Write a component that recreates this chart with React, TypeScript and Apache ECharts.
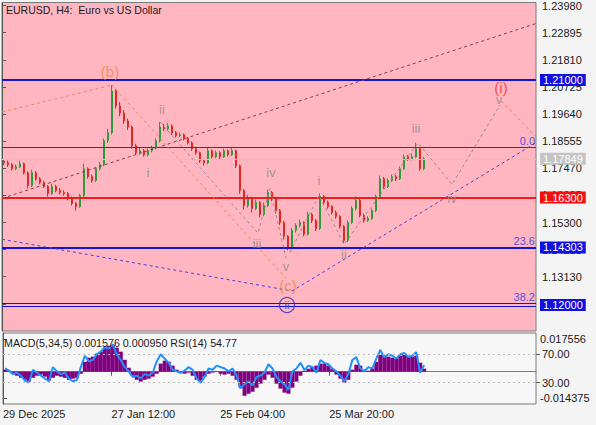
import React, { useEffect, useRef } from "react";
import * as echarts from "echarts";

const FONT = '"Liberation Sans", Arial, sans-serif';

// ---- price data (H4 candles, one every index step) ----
const firstOpen = 1.1775;
const closes = [
  1.1769, 1.1761, 1.1745, 1.1753, 1.1765, 1.1729, 1.1678, 1.1729, 1.1705, 1.169,
  1.1674, 1.1646, 1.1674, 1.1658, 1.165, 1.1646, 1.1626, 1.1606, 1.1594, 1.1638,
  1.1745, 1.1713, 1.1698, 1.1745, 1.1761, 1.1857, 1.1889, 1.2056, 1.1996, 1.1968,
  1.1936, 1.1912, 1.1837, 1.1809, 1.1817, 1.1801, 1.1817, 1.1829, 1.1857, 1.1912,
  1.1905, 1.1916, 1.1889, 1.1877, 1.1881, 1.1865, 1.1849, 1.1825, 1.1809, 1.1777,
  1.1769, 1.1817, 1.1793, 1.1809, 1.1793, 1.1817, 1.1801, 1.1817, 1.1757, 1.1658,
  1.1598, 1.1626, 1.1586, 1.161, 1.1562, 1.1598, 1.165, 1.1626, 1.1578, 1.153,
  1.1475, 1.1431, 1.1499, 1.1518, 1.153, 1.1483, 1.1562, 1.1538, 1.1506, 1.1634,
  1.161, 1.1594, 1.157, 1.1554, 1.1514, 1.1459, 1.153, 1.1586, 1.1618, 1.1558,
  1.1538, 1.1546, 1.1578, 1.1634, 1.1705, 1.1674, 1.1698, 1.1713, 1.1705, 1.1745,
  1.1793, 1.1785, 1.1793, 1.1825, 1.1745, 1.1785,
];
const highs = [
  1.1784, 1.1778, 1.1768, 1.1762, 1.1777, 1.177, 1.1735, 1.1741, 1.1736, 1.1712,
  1.1697, 1.168, 1.1686, 1.1681, 1.1668, 1.1659, 1.1652, 1.1634, 1.1612, 1.1645,
  1.1765, 1.1751, 1.1722, 1.1753, 1.1772, 1.1866, 1.1905, 1.208, 1.2064, 1.2012,
  1.198, 1.1945, 1.1918, 1.1845, 1.1828, 1.1824, 1.1826, 1.1837, 1.1866, 1.1932,
  1.1925, 1.1928, 1.1922, 1.1896, 1.189, 1.1886, 1.1872, 1.1855, 1.1833, 1.1814,
  1.1785, 1.1829, 1.1822, 1.1818, 1.1815, 1.1826, 1.1822, 1.1829, 1.1821, 1.1762,
  1.1664, 1.164, 1.1632, 1.1622, 1.1616, 1.161, 1.1662, 1.1656, 1.1631, 1.1584,
  1.1536, 1.148, 1.1508, 1.1527, 1.1541, 1.1535, 1.1573, 1.1568, 1.1544, 1.1646,
  1.164, 1.1618, 1.16, 1.1578, 1.156, 1.152, 1.1538, 1.1595, 1.1634, 1.1624,
  1.1565, 1.1555, 1.1586, 1.1642, 1.1718, 1.1712, 1.1706, 1.1722, 1.172, 1.1754,
  1.1802, 1.18, 1.1805, 1.1849, 1.183, 1.1792,
];
const lows = [
  1.176, 1.1752, 1.1738, 1.174, 1.1748, 1.1722, 1.1666, 1.1672, 1.1698, 1.1683,
  1.1668, 1.1634, 1.164, 1.1651, 1.1642, 1.1637, 1.1618, 1.1598, 1.1578, 1.1589,
  1.1632, 1.1705, 1.169, 1.1692, 1.1738, 1.1755, 1.1848, 1.1882, 1.1985, 1.1955,
  1.1925, 1.19, 1.1826, 1.18, 1.1801, 1.1793, 1.1795, 1.181, 1.1822, 1.185,
  1.1896, 1.1898, 1.188, 1.187, 1.1871, 1.1858, 1.1842, 1.1817, 1.1801, 1.1768,
  1.1758, 1.1763, 1.1786, 1.1787, 1.1782, 1.1788, 1.1794, 1.1796, 1.1748, 1.1645,
  1.1582, 1.159, 1.157, 1.158, 1.155, 1.1555, 1.1592, 1.1615, 1.1566, 1.152,
  1.1462, 1.1419, 1.1425, 1.149, 1.151, 1.1474, 1.1478, 1.1528, 1.1496, 1.15,
  1.1601, 1.1585, 1.1562, 1.1545, 1.1505, 1.1447, 1.1452, 1.1524, 1.1578, 1.155,
  1.153, 1.1532, 1.154, 1.1572, 1.1628, 1.1665, 1.1668, 1.1692, 1.1696, 1.17,
  1.174, 1.1777, 1.1778, 1.1788, 1.1738, 1.174,
];

// ---- indicator data ----
const rsiValues = [
  50, 47, 42, 44, 40, 33, 30, 48, 44, 40, 36, 32, 52, 46, 42, 44, 36, 32, 34, 52,
  68, 60, 62, 70, 74, 80, 78, 84, 70, 62, 52, 46, 38, 40, 36, 42, 40, 44, 60, 70,
  64, 58, 48, 46, 44, 47, 52, 48, 36, 30, 38, 50, 48, 54, 52, 50, 46, 50, 40, 22,
  28, 32, 26, 38, 40, 44, 56, 50, 38, 32, 28, 20, 46, 50, 58, 48, 54, 52, 44, 62,
  58, 56, 50, 46, 40, 32, 42, 62, 66, 50, 46, 52, 50, 64, 76, 66, 70, 68, 64, 70,
  72, 66, 68, 73, 44, 54.77,
];
const macdValues = [
  0.0011, 0.0005, -0.0011, -0.0022, -0.0033, -0.0044, -0.0054, -0.0033, -0.0022, -0.0016,
  -0.0027, -0.0049, -0.0033, -0.0022, -0.0027, -0.0033, -0.0044, -0.0038, -0.0033, -0.0011,
  0.0054, 0.0076, 0.0082, 0.0098, 0.0109, 0.0131, 0.0141, 0.0147, 0.0131, 0.0109,
  0.0065, 0.0022, -0.0022, -0.0044, -0.0054, -0.0044, -0.0038, -0.0027, -0.0011, 0.0044,
  0.006, 0.0054, 0.0033, 0.0011, -0.0005, -0.0011, -0.0005, -0.0022, -0.0044, -0.0049,
  -0.0027, -0.0011, -0.0005, 0.0002, -0.0011, -0.0016, -0.0011, -0.0022, -0.0044, -0.0087,
  -0.0131, -0.012, -0.0109, -0.0087, -0.0065, -0.0044, -0.0016, -0.0033, -0.0065, -0.0092,
  -0.0114, -0.012, -0.0087, -0.0054, -0.0022, 0.0005, 0.0016, 0.0027, 0.0033, 0.0044,
  0.0044, 0.0033, 0.0016, -0.0016, -0.0038, -0.006, -0.0044, 0.0011, 0.0038, 0.0033,
  0.0011, 0.0005, 0.0016, 0.0054, 0.0092, 0.0087, 0.0082, 0.0076, 0.0071, 0.0087,
  0.0098, 0.0087, 0.0082, 0.0087, 0.0049, 0.0016,
];

// ---- axes ----
const priceTicks = [1.2398, 1.22895, 1.2181, 1.20725, 1.1964, 1.18555, 1.1747, 1.16385, 1.153, 1.14215, 1.1313, 1.12045];
const dateTickPos = [0, 27.2, 54.4, 81.7];
const dateTickLabels = ["29 Dec 2025", "27 Jan 12:00", "25 Feb 04:00", "25 Mar 20:00"];
const macdTicks = [0.017556, -0.014375];
const rsiTicks = [70, 30];

// ---- drawn objects (x in bar index units, y in price) ----
const abLine = [[0, 1.1972], [27.5, 1.208]];
const bcLine = [[27.5, 1.208], [71, 1.1307]];
const channelLine = [[1.5, 1.1634], [133.5, 1.2326]];
const blueTrend = [[0, 1.1463], [72.5, 1.1256], [133.5, 1.1849]];
const downWaves = [[39.5, 1.1932], [64, 1.1487], [67, 1.1666], [71, 1.1387]];
const upWaves = [[72, 1.1411], [79.25, 1.1638], [85.5, 1.1443], [104, 1.1849], [112.5, 1.1682], [124.5, 1.2]];
const projLine = [[124.75, 1.2016], [133.5, 1.1873]];

const waveText = ["(b)", "(c)", "(i)", "i", "ii", "iii", "iv", "v", "i", "ii", "iii", "iv", "v"];
const waveX = [27, 71.5, 124.75, 36.5, 40, 63.75, 67.25, 71, 79.25, 85.5, 103.5, 112.5, 124.25];
const waveY = [1.2135, 1.128, 1.2072, 1.1729, 1.1984, 1.1447, 1.1729, 1.1355, 1.1698, 1.1403, 1.1905, 1.1626, 1.2022];
const waveKind = ["orange", "orange", "red", "gray", "gray", "gray", "gray", "gray", "gray", "gray", "gray", "gray", "gray"];
const circledLabel = { text: "ii", x: 71.25, y: 1.12 };

const resistanceLevel = 1.21;
const fibZero = 1.1829;
const lastPrice = 1.17849;
const supportLevel = 1.163;
const fib236 = 1.14303;
const fib382 = 1.12;

const KIND_COLOR: Record<string, string> = { orange: "#ef8448", red: "#e8343a", gray: "#8a8a8a" };
const BLUE = "#1414d8";
const FIBTXT = "#5a4fd6";

function tag(bg: string, text: string) {
  return {
    show: true,
    position: "end",
    distance: 4,
    formatter: text,
    backgroundColor: bg,
    color: "#ffffff",
    padding: [1, 3, 0, 3],
    fontSize: 11,
    fontFamily: FONT,
    lineHeight: 11,
  };
}
function fibText(t: string) {
  return { show: true, position: "insideEndTop", formatter: t, color: FIBTXT, fontSize: 11, fontFamily: FONT, distance: 1 };
}
const HIDDEN = { color: "rgba(0,0,0,0)", width: 1, type: "solid" };

export default function App() {
  const ref = useRef<HTMLDivElement>(null);
  useEffect(() => {
    if (!ref.current) return;
    const chart = echarts.init(ref.current, undefined, { renderer: "svg" });
    const candles = closes.map((c, i) => {
      const o = i === 0 ? firstOpen : closes[i - 1];
      return [i + 0.5, o, c, lows[i], highs[i]];
    });
    const dashed = (data: number[][], color: string, dash: number[] = [3, 3], width = 1) => ({
      type: "line",
      xAxisIndex: 0,
      yAxisIndex: 0,
      data,
      symbol: "none",
      silent: true,
      z: 5,
      lineStyle: { color, width, type: dash },
    });
    const option: any = {
      animation: false,
      backgroundColor: "#f4f4f4",
      textStyle: { fontFamily: FONT },
      graphic: [
        { type: "text", left: 6, top: 4, style: { text: "EURUSD, H4:  Euro vs US Dollar", fill: "#1a1a1a", font: `10.5px ${FONT}` }, z: 100 },
        { type: "text", left: 4, top: 337, style: { text: "MACD(5,34,5) 0.001576 0.000950 RSI(14) 54.77", fill: "#1a1a1a", font: `10.7px ${FONT}` }, z: 100 },
      ],
      grid: [
        { left: 2, top: 1, width: 534, height: 330, show: true, backgroundColor: "#ffb6c1", borderColor: "#7a7a7a", borderWidth: 1 },
        { left: 2, top: 333, width: 534, height: 71, show: true, backgroundColor: "#f7f7f7", borderColor: "#7a7a7a", borderWidth: 1 },
      ],
      xAxis: [
        { type: "value", gridIndex: 0, min: 0, max: 133.5, show: false },
        {
          type: "value", gridIndex: 1, min: 0, max: 133.5,
          axisLine: { show: true, lineStyle: { color: "#7a7a7a" } },
          axisTick: { show: true, length: 4, customValues: dateTickPos, lineStyle: { color: "#555" } },
          axisLabel: {
            show: true, customValues: dateTickPos, align: "left", color: "#1a1a1a", fontSize: 11, margin: 4,
            formatter: (v: number) => {
              const k = dateTickPos.findIndex((p) => Math.abs(p - v) < 0.01);
              return k >= 0 ? dateTickLabels[k] : "";
            },
          },
          splitLine: { show: false },
        },
      ],
      yAxis: [
        {
          type: "value", gridIndex: 0, position: "right", min: 1.1096, max: 1.241,
          axisLine: { show: true, lineStyle: { color: "#555" } },
          axisTick: { show: true, length: 4, customValues: priceTicks, lineStyle: { color: "#555" } },
          axisLabel: { show: true, customValues: priceTicks, color: "#1a1a1a", fontSize: 11, margin: 6, formatter: (v: number) => v.toFixed(5) },
          splitLine: { show: false },
        },
        {
          type: "value", gridIndex: 1, position: "right", min: -0.01758, max: 0.02105,
          axisLine: { show: true, lineStyle: { color: "#555" } },
          axisTick: { show: true, length: 4, customValues: macdTicks, lineStyle: { color: "#555" } },
          axisLabel: { show: true, customValues: macdTicks, color: "#1a1a1a", fontSize: 11, margin: 4, formatter: (v: number) => v.toFixed(6) },
          splitLine: { show: false },
        },
        {
          type: "value", gridIndex: 1, position: "right", min: 0, max: 100,
          axisLine: { show: false },
          axisTick: { show: true, length: 4, customValues: rsiTicks, lineStyle: { color: "#555" } },
          axisLabel: { show: true, customValues: rsiTicks, color: "#1a1a1a", fontSize: 11, margin: 6, formatter: (v: number) => v.toFixed(2) },
          splitLine: { show: false },
        },
      ],
      series: [
        {
          type: "line", xAxisIndex: 0, yAxisIndex: 0, data: [], silent: true, z: 3,
          markLine: {
            silent: true, symbol: ["none", "none"], animation: false, precision: 6,
            data: [
              { yAxis: resistanceLevel, lineStyle: { color: BLUE, width: 2, type: "solid" }, label: tag("#1010e0", "1.21000") },
              { yAxis: fibZero, lineStyle: { color: "#2a2ae0", width: 1, type: "solid" }, label: fibText("0.0") },
              { yAxis: lastPrice, lineStyle: { color: "#c8c8c8", width: 1, type: "solid" }, label: tag("#c4c4c4", "1.17849") },
              { yAxis: supportLevel, lineStyle: { color: "#ee1c1c", width: 2, type: "solid" }, label: tag("#f01010", "1.16300") },
              { yAxis: fib236, lineStyle: { color: BLUE, width: 2, type: "solid" }, label: tag("#1010e0", "1.14303") },
              { yAxis: fib236, lineStyle: HIDDEN, label: fibText("23.6") },
              { yAxis: fib382 + 0.00055, lineStyle: { color: BLUE, width: 1.2, type: "solid" }, label: fibText("38.2") },
              { yAxis: fib382 - 0.00055, lineStyle: { color: BLUE, width: 1.2, type: "solid" }, label: { show: false } },
              { yAxis: fib382, lineStyle: HIDDEN, label: tag("#1010e0", "1.12000") },
            ],
          },
        },
        {
          type: "candlestick", xAxisIndex: 0, yAxisIndex: 0, data: candles, encode: { x: 0, y: [1, 2, 3, 4] },
          barWidth: 2, silent: true, z: 4,
          itemStyle: { color: "#2e9a3c", color0: "#e3261f", borderColor: "#2e9a3c", borderColor0: "#e3261f", borderWidth: 1 },
        },
        dashed(channelLine, "#8e3a4a", [3, 3]),
        dashed(abLine, "#ee8558", [3, 3]),
        dashed(bcLine, "#ee8558", [3, 3]),
        dashed(projLine, "#e07a6a", [3, 3]),
        dashed(blueTrend, "#4a3ee0", [3, 3]),
        dashed(downWaves, "#9a8a90", [3, 3]),
        dashed(upWaves, "#9a8a90", [3, 3]),
        {
          type: "scatter", xAxisIndex: 0, yAxisIndex: 0, silent: true, z: 10, symbolSize: 1,
          itemStyle: { color: "rgba(0,0,0,0)" },
          data: waveText.map((t, k) => ({
            name: t,
            value: [waveX[k], waveY[k]],
            label: {
              show: true, position: "inside", formatter: t,
              color: KIND_COLOR[waveKind[k]],
              fontSize: waveKind[k] === "gray" ? 13 : 15,
              fontFamily: FONT,
            },
          })),
        },
        {
          type: "scatter", xAxisIndex: 0, yAxisIndex: 0, silent: true, z: 11, symbol: "circle", symbolSize: 15,
          itemStyle: { color: "rgba(0,0,0,0)", borderColor: "#2a36d0", borderWidth: 1.3 },
          data: [{ name: circledLabel.text, value: [circledLabel.x, circledLabel.y] }],
          label: { show: true, position: "inside", formatter: circledLabel.text, color: "#2a36d0", fontSize: 11, fontFamily: FONT },
        },
        {
          type: "bar", xAxisIndex: 1, yAxisIndex: 1, silent: true, barWidth: 4,
          data: macdValues.map((v, i) => [i + 0.5, v]),
          itemStyle: { color: "#800080" },
        },
        {
          type: "line", xAxisIndex: 1, yAxisIndex: 2, silent: true, symbol: "none",
          data: rsiValues.map((v, i) => [i + 0.5, v]),
          lineStyle: { color: "#1e90ff", width: 2 },
          markLine: {
            silent: true, symbol: ["none", "none"], label: { show: false },
            lineStyle: { color: "#bdbdbd", type: [2, 3], width: 1 },
            data: rsiTicks.map((v) => ({ yAxis: v })),
          },
        },
      ],
    };
    chart.setOption(option);
    return () => chart.dispose();
  }, []);
  return (
    <div
      ref={ref}
      style={{ position: "fixed", left: 0, top: 0, width: 596, height: 425, background: "#f4f4f4" }}
    />
  );
}
